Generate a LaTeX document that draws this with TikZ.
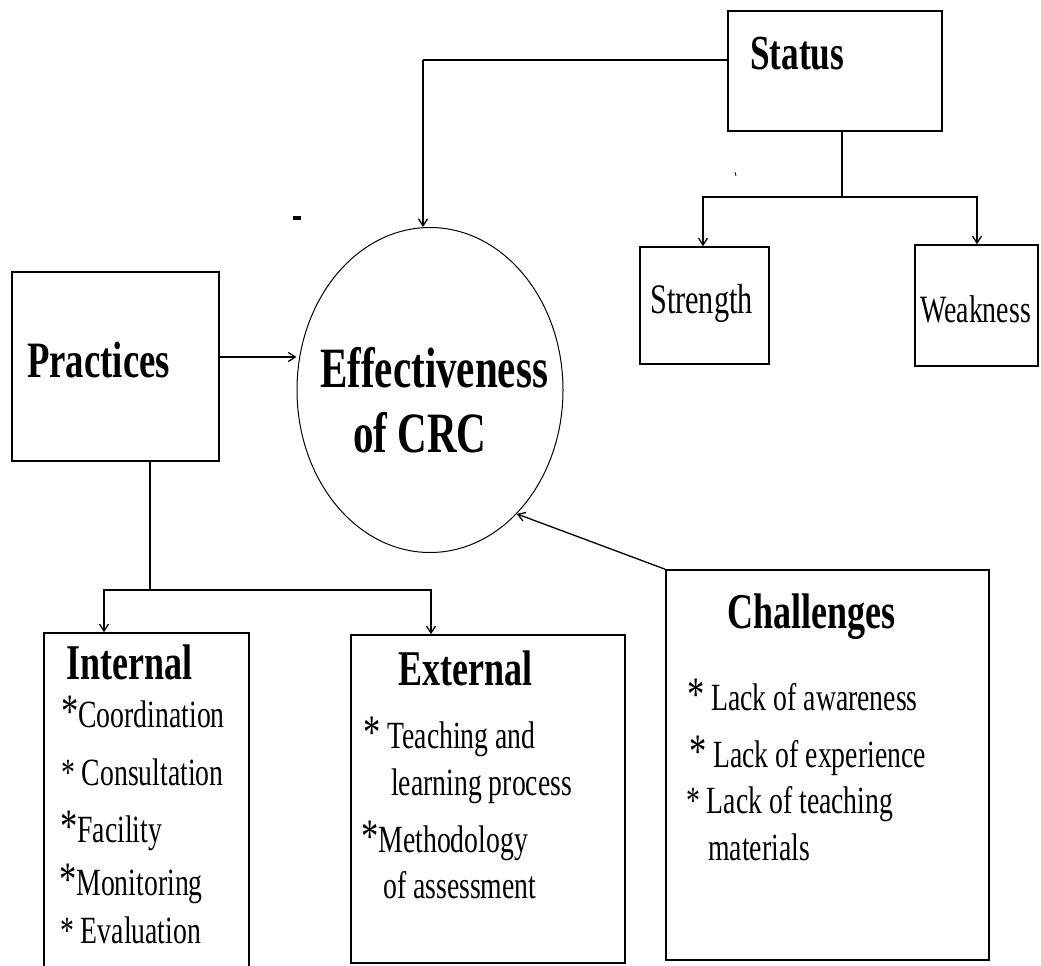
\documentclass[tikz,border=0pt]{standalone}
\usepackage{fontspec}
\usetikzlibrary{arrows.meta,shapes.geometric}
\newfontfamily\tf[FakeStretch=0.72]{Liberation Serif}
\newcommand{\hb}{\tf\bfseries\fontsize{50}{60}\selectfont}
\newcommand{\hbig}{\tf\bfseries\fontsize{57}{68}\selectfont}
\newcommand{\rg}{\tf\fontsize{38.5}{46}\selectfont}
\newcommand{\bigast}{{\fontsize{48}{50}\selectfont *}}
\begin{document}
\begin{tikzpicture}[x=1pt,y=-1pt,
  box/.style={draw,rectangle,line width=1.5pt,inner sep=0pt},
  txt/.style={anchor=base west,inner sep=0pt},
  conn/.style={line width=1.3pt},
  arr/.style={conn,-{Straight Barb[length=7pt,width=9pt]}}]
\useasboundingbox (0,0) rectangle (1041,966);
% boxes
\node[box,minimum width=214pt,minimum height=120pt] (status) at (835,71) {};
\node[box,minimum width=129pt,minimum height=117pt] (str) at (704.5,305.5) {};
\node[box,minimum width=123pt,minimum height=121pt] (weak) at (976.5,305.5) {};
\node[box,minimum width=207pt,minimum height=189pt] (prac) at (115.5,366.5) {};
\node[box,minimum width=205pt,minimum height=342pt] (int) at (146.5,804) {};
\node[box,minimum width=274pt,minimum height=328pt] (ext) at (488,799) {};
\node[box,minimum width=323pt,minimum height=390pt] (chal) at (827.5,765) {};
\node[draw,ellipse,line width=1pt,minimum width=266pt,minimum height=325pt,inner sep=0pt] (crc) at (430,390) {};
% texts
\node[txt,font=\tf\bfseries\fontsize{49}{58}\selectfont] (tstatus) at (750,70) {Status};
\node[txt,font=\tf\fontsize{42}{50}\selectfont] (tstr) at (650,313) {Strength};
\node[txt,font=\tf\fontsize{38.7}{46}\selectfont] (tweak) at (920,322) {Weakness};
\node[txt,font=\tf\bfseries\fontsize{51}{60}\selectfont] (tprac) at (27,377) {Practices};
\node[txt,font=\hbig] (teff1) at (320,387) {Effectiveness};
\node[txt,font=\hbig] (teff2) at (353,452) {of CRC};
\node[txt,font=\hb] (tint) at (66,679) {Internal};
\node[txt,font=\rg] (i1) at (61,727) {\bigast Coordination};
\node[txt,font=\rg] (i2) at (61,785) {* Consultation};
\node[txt,font=\rg] (i3) at (60,842) {\bigast Facility};
\node[txt,font=\rg] (i4) at (59,895) {\bigast Monitoring};
\node[txt,font=\rg] (i5) at (60,943) {* Evaluation};
\node[txt,font=\hb] (text) at (398,685) {External};
\node[txt,font=\rg] (e1) at (363,748) {\bigast\ Teaching and};
\node[txt,font=\rg] (e2) at (391,795) {learning process};
\node[txt,font=\rg] (e3) at (361,852) {\bigast Methodology};
\node[txt,font=\rg] (e4) at (383,898) {of assessment};
\node[txt,font=\hb] (tchal) at (727,628) {Challenges};
\node[txt,font=\rg] (c1) at (687,710) {\bigast\ Lack of awareness};
\node[txt,font=\rg] (c2) at (689,767) {\bigast\ Lack of experience};
\node[txt,font=\rg] (c3) at (686,813) {* Lack of teaching};
\node[txt,font=\rg] (c4) at (708,860) {materials};
% connectors
\coordinate (s1) at (423,60);
\draw[conn] (status.west |- s1) -- (s1);
\draw[arr] (s1) -- (crc.north -| s1);
\coordinate (sj) at (842,197);
\coordinate (sa) at (703,197);
\coordinate (wa) at (977,197);
\draw[conn] (status.south -| sj) -- (sj);
\draw[arr] (sj) -- (sa) -- (str.north -| sa);
\draw[arr] (sj) -- (wa) -- (weak.north -| wa);
\coordinate (py) at (0,357);
\draw[arr] (prac.east |- py) -- (crc.west |- py);
\coordinate (pj) at (150,590);
\coordinate (ia) at (104,590);
\coordinate (ea) at (431,590);
\draw[conn] (prac.south -| pj) -- (pj);
\draw[arr] (pj) -- (ia) -- (int.north -| ia);
\draw[arr] (pj) -- (ea) -- (ext.north -| ea);
\draw[arr] (chal.north west) -- (crc.-55);
% stray marks
\fill (293,216) rectangle (301,220);
\draw[line width=0.8pt] (735,172) -- (736,176);
\end{tikzpicture}
\end{document}
